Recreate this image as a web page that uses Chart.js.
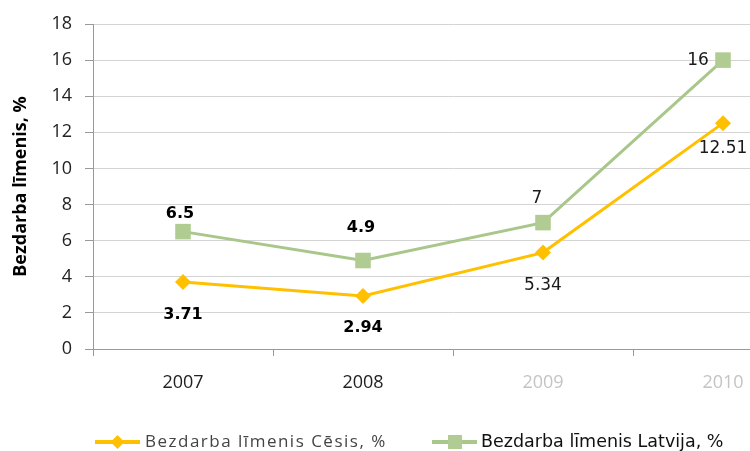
<!DOCTYPE html>
<html>
<head>
<meta charset="utf-8">
<script src="https://cdn.jsdelivr.net/npm/chart.js"></script>
<style>
  html, body { margin: 0; padding: 0; background: #fff; overflow: hidden; }
  #wrap { width: 750px; height: 451px; overflow: hidden; }
</style>
</head>
<body>
<div id="wrap"><canvas id="chart" width="840" height="451"></canvas></div>
<script>
const years = ['2007', '2008', '2009', '2010'];
const cesisValues = [3.71, 2.94, 5.34, 12.51];
const latvijaValues = [6.5, 4.9, 7, 16];
const yTicks = [0, 2, 4, 6, 8, 10, 12, 14, 16, 18];

const cesisLabel = 'Bezdarba līmenis Cēsis, %';
const latvijaLabel = 'Bezdarba līmenis Latvija, %';
const yTitle = 'Bezdarba līmenis, %';

const yellow = '#ffc000';
const green = '#b0cc92';
const greenLine = '#a9c68b';

// label placement for each point: [dx, dy] from the marker
const cesisLabelShift = [[0, 33], [0, 32], [0, 33], [0, 25]];
const latvijaLabelShift = [[-3, -18], [-2, -33], [-6, -24], [-25, 0]];

function labelFont(i) {
  return i < 2 ? 'bold 16px "DejaVu Sans"' : '17px "DejaVu Sans"';
}

const pointLabels = {
  id: 'pointLabels',
  afterDatasetsDraw(chart) {
    const ctx = chart.ctx;
    const shifts = [cesisLabelShift, latvijaLabelShift];
    ctx.save();
    ctx.textAlign = 'center';
    ctx.textBaseline = 'middle';
    chart.data.datasets.forEach((ds, d) => {
      chart.getDatasetMeta(d).data.forEach((pt, i) => {
        ctx.font = labelFont(i);
        ctx.fillStyle = i < 2 ? '#000' : '#1a1a1a';
        const [dx, dy] = shifts[d][i];
        ctx.fillText(String(ds.data[i]), pt.x + dx, pt.y + dy);
      });
    });
    ctx.restore();
  }
};

const bottomLegend = {
  id: 'bottomLegend',
  afterDraw(chart) {
    const ctx = chart.ctx;
    const y = chart.height - 9;
    ctx.save();
    // Cēsis
    let x = chart.chartArea.left + 2;
    ctx.strokeStyle = yellow;
    ctx.lineWidth = 4;
    ctx.beginPath(); ctx.moveTo(x, y); ctx.lineTo(x + 45, y); ctx.stroke();
    ctx.fillStyle = yellow;
    ctx.beginPath();
    ctx.moveTo(x + 22.5, y - 7); ctx.lineTo(x + 29.5, y); ctx.lineTo(x + 22.5, y + 7); ctx.lineTo(x + 15.5, y);
    ctx.closePath(); ctx.fill();
    ctx.font = '17px "Open Sans"';
    ctx.letterSpacing = '1.5px';
    ctx.fillStyle = '#444';
    ctx.textBaseline = 'middle';
    ctx.textAlign = 'left';
    ctx.fillText(cesisLabel, x + 50, y);
    // Latvija
    x = 432;
    ctx.strokeStyle = greenLine;
    ctx.beginPath(); ctx.moveTo(x, y); ctx.lineTo(x + 45, y); ctx.stroke();
    ctx.fillStyle = green;
    ctx.fillRect(x + 16, y - 7, 14, 14);
    ctx.font = '17.5px "DejaVu Sans"';
    ctx.letterSpacing = '0px';
    ctx.fillStyle = '#111';
    ctx.fillText(latvijaLabel, x + 49, y);
    ctx.restore();
  }
};

new Chart(document.getElementById('chart').getContext('2d'), {
  type: 'line',
  data: {
    labels: years,
    datasets: [
      {
        label: cesisLabel,
        data: cesisValues,
        borderColor: yellow,
        backgroundColor: yellow,
        borderWidth: 3,
        pointStyle: 'rectRot',
        pointRadius: 8,
        pointBorderWidth: 0,
        tension: 0
      },
      {
        label: latvijaLabel,
        data: latvijaValues,
        borderColor: greenLine,
        backgroundColor: green,
        borderWidth: 3,
        pointStyle: 'rect',
        pointRadius: 11,
        pointBorderWidth: 0,
        tension: 0
      }
    ]
  },
  options: {
    responsive: false,
    animation: false,
    layout: { padding: { top: 24, right: 27, left: 0, bottom: 0 } },
    plugins: {
      legend: { display: false },
      tooltip: { enabled: false }
    },
    scales: {
      x: {
        offset: true,
        grid: { drawOnChartArea: false, offset: true, tickLength: 7, color: '#999' },
        border: { color: '#999' },
        ticks: {
          font: { family: 'Open Sans', size: 18 },
          color: ctx => ctx.index < 2 ? '#222' : '#c4c4c4',
          padding: 16
        },
        afterFit(scale) { scale.height = 102; }
      },
      y: {
        min: 0,
        max: 18,
        afterBuildTicks(scale) { scale.ticks = yTicks.map(v => ({ value: v })); },
        grid: { color: '#d4d4d4', tickColor: '#999', tickLength: 8 },
        border: { color: '#999' },
        ticks: {
          font: { family: 'Open Sans', size: 18 },
          color: '#222',
          padding: 13
        },
        title: {
          display: true,
          text: yTitle,
          font: { family: 'Open Sans', size: 18, weight: 'bold' },
          color: '#000',
          padding: { top: 10, bottom: 0 }
        },
        afterFit(scale) { scale.width = 93; }
      }
    }
  },
  plugins: [pointLabels, bottomLegend]
});
</script>
</body>
</html>
